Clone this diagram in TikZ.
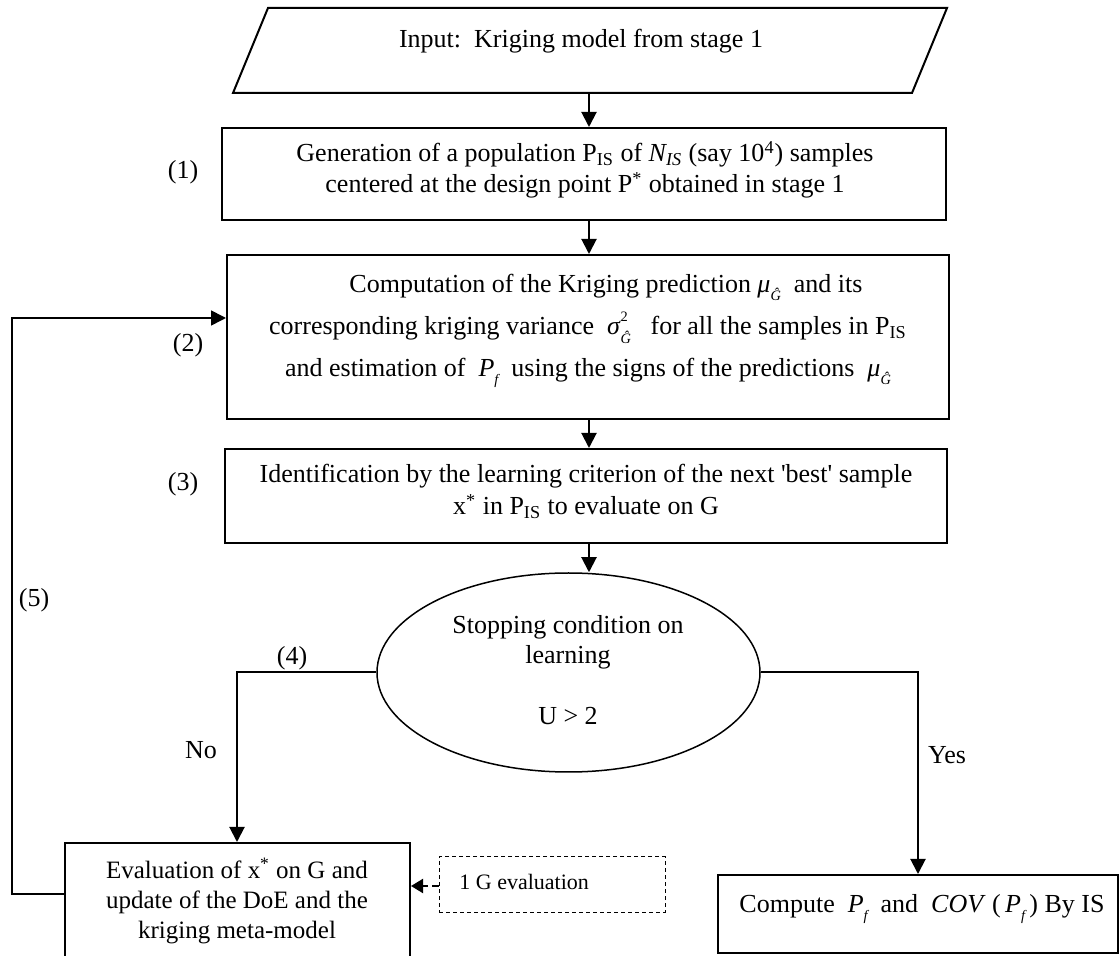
\documentclass[tikz,border=0pt]{standalone}
\usepackage{fontspec}
\setmainfont{Liberation Serif}
\usetikzlibrary{shapes.geometric,arrows.meta,calc}

% small italic subscripts and superscripts in the text font
\newcommand{\smallsub}{\fontsize{7.2}{7.2}\selectfont}
\newcommand{\MuG}{\textit{μ}\raisebox{-0.6ex}{\smallsub\itshape Ĝ}}
\newcommand{\SigG}{\textit{σ}\rlap{\raisebox{1.1ex}{\smallsub 2}}\raisebox{-0.75ex}{\smallsub\itshape Ĝ}}
\newcommand{\Pf}{\textit{P}\raisebox{-0.6ex}{\smallsub\itshape f}}
\newcommand{\PIS}{P\textsubscript{IS}}

\begin{document}
\begin{tikzpicture}[x=0.5pt,y=-0.5pt,
  every node/.style={font=\fontsize{13}{15.5}\selectfont},
  box/.style={draw, line width=1pt, inner sep=0pt, rectangle},
  sz/.style 2 args={minimum width=#1*0.5pt, minimum height=#2*0.5pt},
  txt/.style={inner sep=0pt, align=center, anchor=base},
  tag/.style={inner sep=0pt},
  tip/.style={-{Triangle[length=7.5pt,width=7.5pt]}},
  conn/.style={line width=1pt, tip},
  dconn/.style={line width=1pt, dash pattern=on 3.5pt off 2pt,
                -{Triangle[length=6pt,width=7pt]}}]
\useasboundingbox (0,0) rectangle (1120,956);
\clip (0,0) rectangle (1120,956);

% input parallelogram
\coordinate (pTL) at (268,8);
\coordinate (pTR) at (947,8);
\coordinate (pBR) at (912,93);
\coordinate (pBL) at (233,93);
\draw[line width=1pt] (pTL) -- (pTR) -- (pBR) -- (pBL) -- cycle;
\node[txt] (inp) at (581,48) {Input:\ \ Kriging model from stage 1};

% process boxes
\node[box, sz={724}{92}]  (b1) at (584,174) {};
\node[box, sz={722}{164}] (b2) at (588,337) {};
\node[box, sz={722}{94}]  (b3) at (586,496) {};
\node[draw, ellipse, line width=0.75pt, inner sep=0pt, sz={383}{199}] (ell) at (568.5,672.5) {};
\node[box, sz={345}{150}] (ev)  at (237.5,918) {};
\node[box, sz={400}{78}]  (cmp) at (918,914) {};
\node[draw, inner sep=0pt, rectangle, sz={226}{55}, line width=0.5pt, dash pattern=on 2pt off 1.5pt] (dsh) at (552,884.5) {};

% box texts (each placed by the baseline of its last line)
\node[txt, font=\fontsize{13}{15.5}\selectfont] (b1t) at (585,193)
  {Generation of a population \PIS{} of \textit{N\textsubscript{IS}} (say 10\textsuperscript{4}) samples\\
   centered at the design point P\textsuperscript{*} obtained in stage 1};
\node[txt, font=\fontsize{13}{21}\selectfont] (b2t) at (588,377)
  {\hspace*{18pt}Computation of the Kriging prediction \MuG\ \ and its\\
   corresponding kriging variance \ \SigG\ \ \ for all the samples in \PIS\hspace*{16pt}\\
   and estimation of \ \Pf\ \ using the signs of the predictions \ \MuG};
\node[txt, font=\fontsize{13}{16}\selectfont] (b3t) at (586,515)
  {Identification by the learning criterion of the next \textquotesingle best\textquotesingle{} sample\\
   x\textsuperscript{*} in \PIS{} to evaluate on G};
\node[txt, font=\fontsize{13}{15.25}\selectfont] (ellt) at (568,725)
  {Stopping condition on\\ learning\\[15.25pt] U > 2};
\node[txt, font=\fontsize{12.5}{15}\selectfont] (evt) at (237,938)
  {Evaluation of x\textsuperscript{*} on G and\\ update of the DoE and the\\ kriging meta-model};
\node[txt] (cmpt) at (922,913)
  {Compute \ \Pf\ \ and \ \textit{COV}\ (\,\Pf\,) By IS};
\node[inner sep=0pt, anchor=base west, font=\fontsize{11}{13}\selectfont] (dsht) at (459,890) {1 G evaluation};

% step numbers and branch labels
\node[tag] (n1) at (183,172) {(1)};
\node[tag] (n2) at (188,345) {(2)};
\node[tag] (n3) at (183,484) {(3)};
\node[tag] (n4) at (292,658) {(4)};
\node[tag] (n5) at (34,600) {(5)};
\node[tag] (no) at (201,750) {No};
\node[tag] (yes) at (947,755) {Yes};

% main downward flow
\coordinate (col) at (589,0);
\draw[conn] (col |- pBL) -- (col |- b1.north);
\draw[conn] (col |- b1.south) -- (col |- b2.north);
\draw[conn] (col |- b2.south) -- (col |- b3.north);
\draw[conn] (col |- b3.south) -- (col |- ell.north);

% decision branches
\coordinate (nox) at (237,0);
\draw[conn] (ell.west) -| (nox |- ev.north);
\draw[conn] (ell.east) -| (cmp.north);

% loop back to the prediction step
\coordinate (lp) at (12,894);
\draw[line width=0.8pt, tip] (ev.west |- lp) -- (lp) |- ($(b2.west)+(0,-19)$);

% extra evaluation input
\draw[dconn] (dsh.west |- 0,886) -- (ev.east |- 0,886);
\end{tikzpicture}
\end{document}
